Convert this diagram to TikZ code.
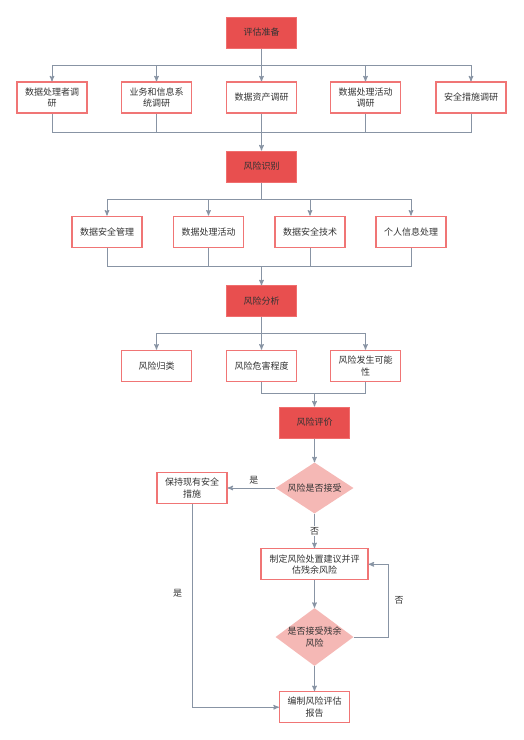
\documentclass[tikz,border=0pt]{standalone}
\usepackage{fontspec}
\newfontfamily\cjk{Noto Sans CJK SC}
\usetikzlibrary{arrows,shapes.geometric}

\definecolor{stagered}{HTML}{E84F4F}
\definecolor{stageedge}{HTML}{F06E6E}
\definecolor{boxedge}{HTML}{F07575}
\definecolor{decisionpink}{HTML}{F5B8B5}
\definecolor{wiregray}{HTML}{8894A4}
\definecolor{ink}{HTML}{333333}

\begin{document}
\begin{tikzpicture}[x=1pt,y=-1pt,
    every node/.style={font=\cjk\fontsize{9}{11.5}\selectfont, text=ink, align=center},
    stage/.style={rectangle, fill=stagered, draw=stageedge, line width=1pt, minimum width=70pt, minimum height=31pt, inner sep=0},
    task/.style={rectangle, fill=white, draw=boxedge, line width=1.2pt, minimum width=70pt, minimum height=31pt, inner sep=0},
    choice/.style={diamond, fill=decisionpink, draw=none, inner sep=-4pt, minimum width=78pt},
    wire/.style={draw=wiregray, line width=1pt},
    flow/.style={wire, -stealth'}]

        \useasboundingbox (0,0) rectangle (523,740);

        %===========================
        % Preparation
        %===========================
        \node (prep) at (261.5,32.5) [stage] {评估准备};
        \node (sur1) at (52,97.5) [task] {数据处理者调\\研};
        \node (sur2) at (156.5,97.5) [task] {业务和信息系\\统调研};
        \node (sur3) at (261.5,97.5) [task] {数据资产调研};
        \node (sur4) at (365.5,97.5) [task] {数据处理活动\\调研};
        \node (sur5) at (471,97.5) [task] {安全措施调研};
        \coordinate (splitA) at (261.5,65.3);
        \coordinate (joinA) at (261.5,132);

        \draw[wire] (prep) -- (splitA);
        \draw[flow] (splitA) -| (sur1);
        \draw[flow] (splitA) -| (sur2);
        \draw[flow] (splitA) -- (sur3);
        \draw[flow] (splitA) -| (sur4);
        \draw[flow] (splitA) -| (sur5);
        \draw[wire] (sur1) |- (joinA);
        \draw[wire] (sur2) |- (joinA);
        \draw[wire] (sur3) -- (joinA);
        \draw[wire] (sur4) |- (joinA);
        \draw[wire] (sur5) |- (joinA);

        %===========================
        % Identification
        %===========================
        \node (ident) at (261.5,166.5) [stage] {风险识别};
        \draw[flow] (joinA) -- (ident);

        \node (idn1) at (107,231.7) [task] {数据安全管理};
        \node (idn2) at (208.5,231.7) [task] {数据处理活动};
        \node (idn3) at (310,231.7) [task] {数据安全技术};
        \node (idn4) at (411,231.7) [task] {个人信息处理};
        \coordinate (splitB) at (261.5,199.3);
        \coordinate (joinB) at (261.5,266.3);

        \draw[wire] (ident) -- (splitB);
        \draw[flow] (splitB) -| (idn1);
        \draw[flow] (splitB) -| (idn2);
        \draw[flow] (splitB) -| (idn3);
        \draw[flow] (splitB) -| (idn4);
        \draw[wire] (idn1) |- (joinB);
        \draw[wire] (idn2) |- (joinB);
        \draw[wire] (idn3) |- (joinB);
        \draw[wire] (idn4) |- (joinB);

        %===========================
        % Analysis
        %===========================
        \node (anal) at (261.5,301.3) [stage] {风险分析};
        \draw[flow] (joinB) -- (anal);

        \node (ana1) at (156.5,365.8) [task] {风险归类};
        \node (ana2) at (261.5,365.8) [task] {风险危害程度};
        \node (ana3) at (365.5,365.8) [task] {风险发生可能\\性};
        \coordinate (splitC) at (261.5,333.7);
        \coordinate (joinC) at (314.5,393.7);

        \draw[wire] (anal) -- (splitC);
        \draw[flow] (splitC) -| (ana1);
        \draw[flow] (splitC) -- (ana2);
        \draw[flow] (splitC) -| (ana3);
        \draw[wire] (ana2) |- (joinC);
        \draw[wire] (ana3) |- (joinC);

        %===========================
        % Evaluation
        %===========================
        \node (eval) at (314.5,422.5) [stage] {风险评价};
        \draw[flow] (joinC) -- (eval);

        \node (chk1) at (314.5,488) [choice, minimum height=51pt] {风险是否接受};
        \node (keep) at (192,488) [task] {保持现有安全\\措施};
        \node (plan) at (314.5,564.3) [task, minimum width=107pt] {制定风险处置建议并评\\估残余风险};
        \node (chk2) at (314.5,637) [choice, minimum height=56pt] {是否接受残余\\风险};
        \node (report) at (314.5,707.2) [task] {编制风险评估\\报告};
        \coordinate (loopR) at (388.7,637);

        \draw[flow] (eval) -- (chk1);
        \draw[flow] (chk1) -- node[above, pos=0.45] {是} (keep);
        \draw[flow] (chk1) -- node[fill=white, inner sep=1pt] {否} (plan);
        \draw[flow] (plan) -- (chk2);
        \draw[flow] (chk2) -- (loopR) |- node[right, pos=0.25, xshift=2pt] {否} (plan);
        \draw[flow] (chk2) -- (report);
        \draw[flow] (keep) |- node[left, pos=0.22, xshift=-6pt] {是} (report);

    \end{tikzpicture}
\end{document}
